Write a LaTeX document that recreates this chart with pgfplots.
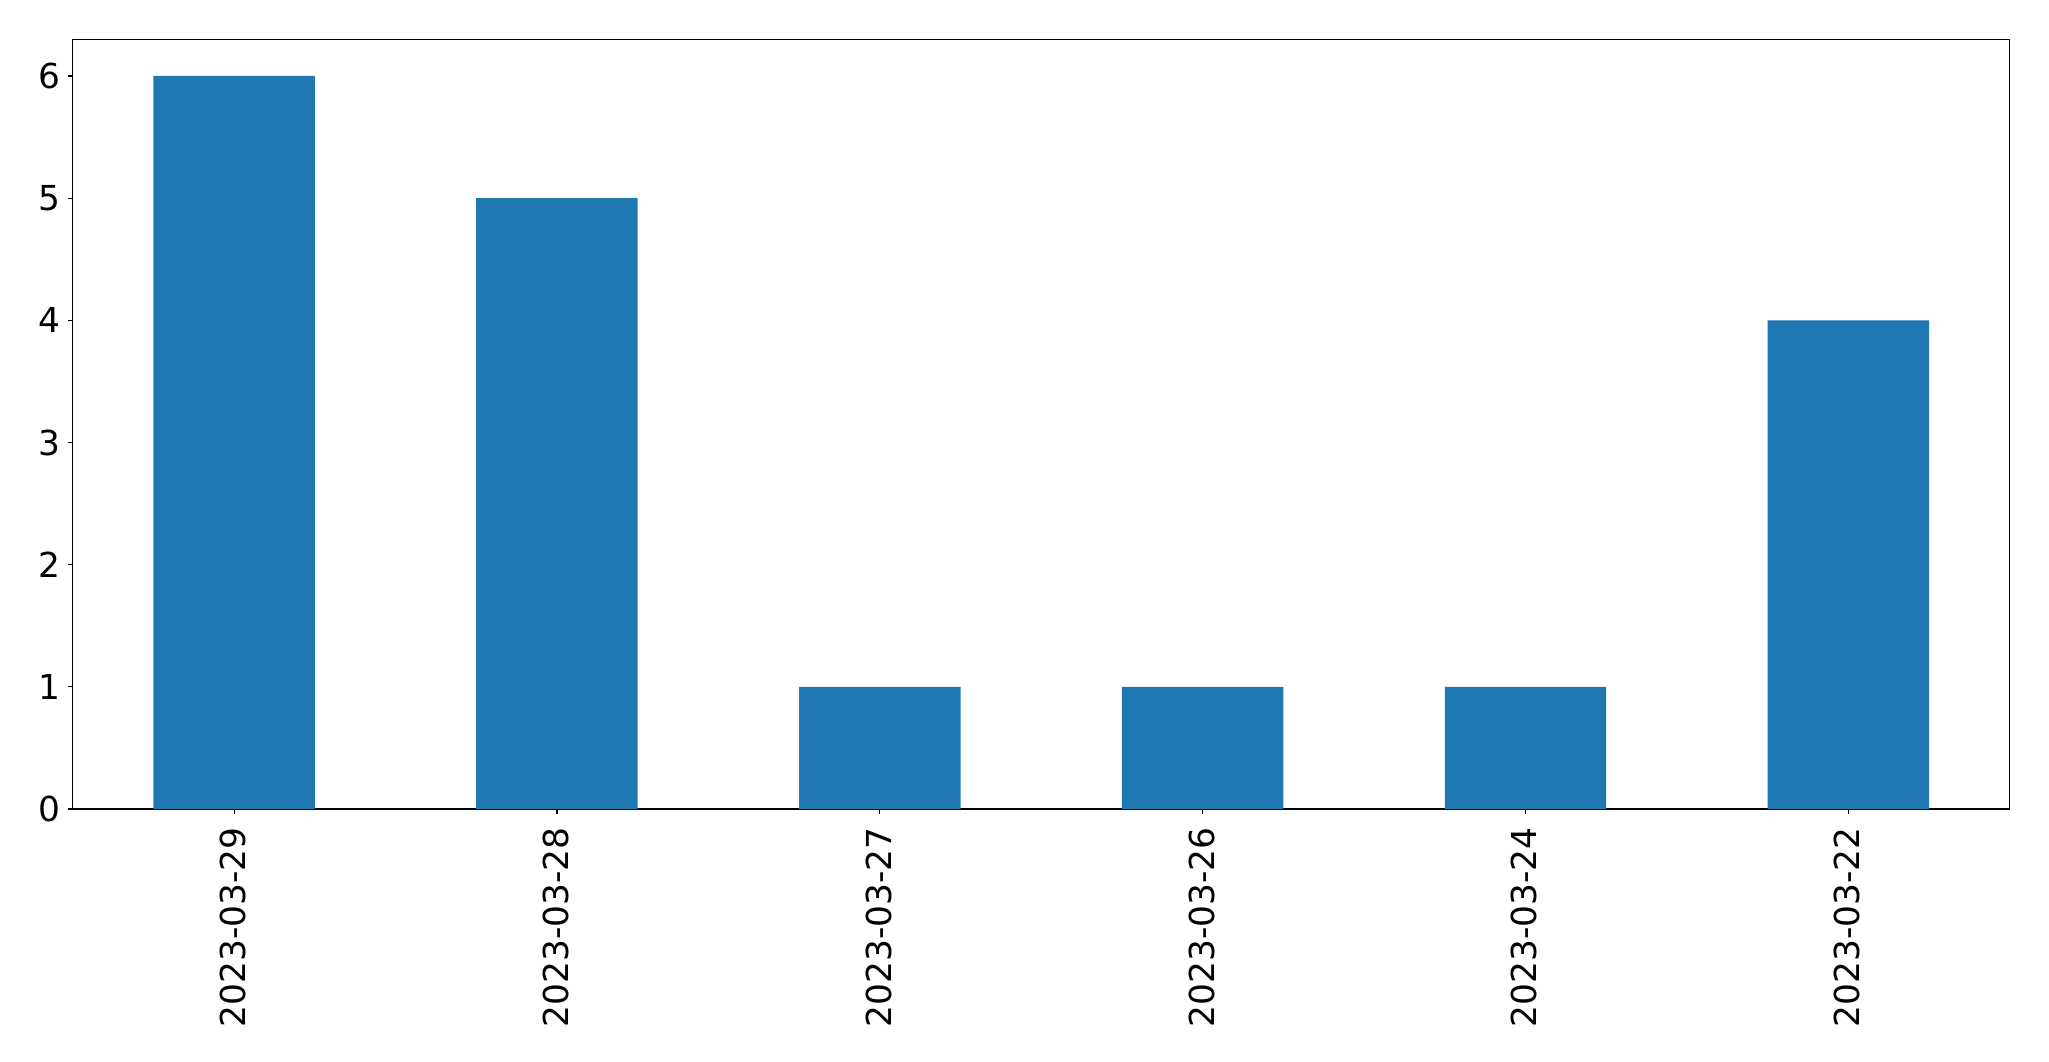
\documentclass[border=0pt]{standalone}
\usepackage{pgfplots}
\pgfplotsset{compat=1.18}
\usepackage{fontspec}
\setmainfont{DejaVu Sans}
\definecolor{mplblue}{HTML}{1F77B4}
\begin{document}
\begin{tikzpicture}
\path[use as bounding box] (-36.35pt,-126pt) rectangle (988.15pt,404.5pt);
\begin{axis}[
  at={(0pt,0pt)}, anchor=south west,
  scale only axis,
  width=968.5pt, height=384.85pt,
  xmin=-0.5, xmax=5.5, ymin=0, ymax=6.3,
  ybar, bar width=0.5, bar shift=0pt,
  xtick={0,1,2,3,4,5},
  xticklabels={2023-03-29,2023-03-28,2023-03-27,2023-03-26,2023-03-24,2023-03-22},
  ytick={0,1,2,3,4,5,6},
  tick align=outside,
  tick pos=left,
  major tick length=2.43pt,
  axis line style={line width=0.55pt},
  tick style={line width=0.55pt, black},
  /pgf/number format/assume math mode=true,
  ticklabel style={font=\fontsize{17.2pt}{20pt}\selectfont},
  xticklabel style={rotate=90, anchor=east, inner sep=0pt, xshift=-6.5pt, yshift=0.5pt},
  yticklabel style={inner sep=0pt, xshift=-3.5pt},
]
\addplot[fill=mplblue, draw=none] coordinates {(0,6) (1,5) (2,1) (3,1) (4,1) (5,4)};
\end{axis}
\end{tikzpicture}
\end{document}
